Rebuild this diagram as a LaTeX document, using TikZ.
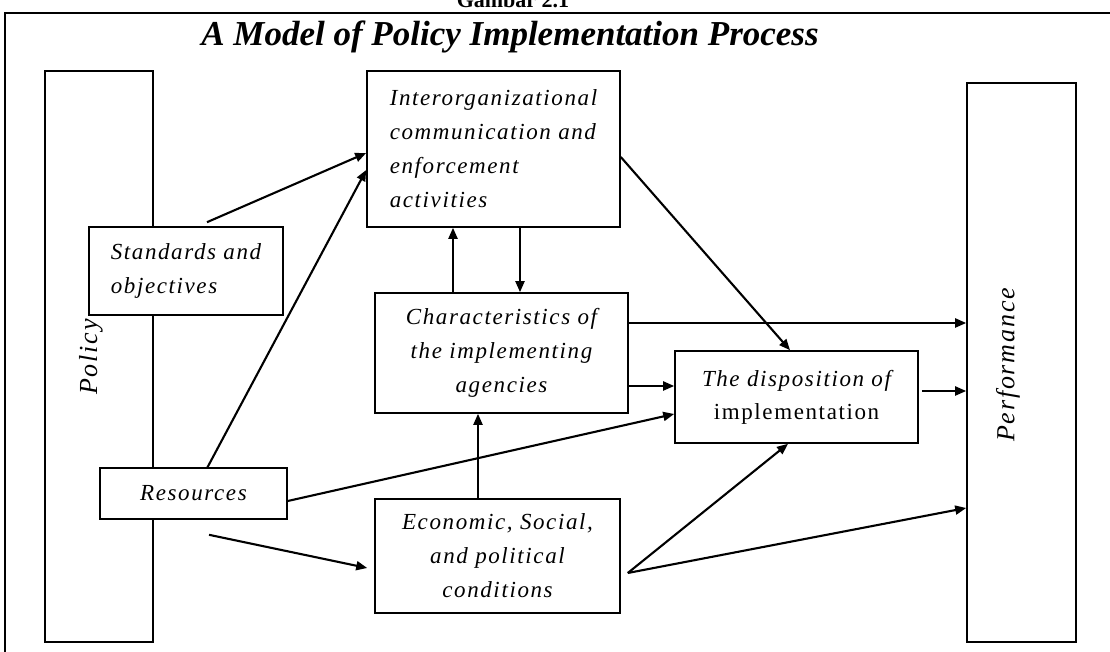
\documentclass[tikz,border=0pt]{standalone}
\usepackage{fontspec}
\setmainfont{Liberation Serif}
\newfontfamily\spacedserif[LetterSpace=7]{Liberation Serif}
\usetikzlibrary{arrows.meta}
\newcommand\boxtext{\spacedserif\itshape\fontsize{23}{34}\selectfont}
\newcommand\sidetext{\spacedserif\itshape\fontsize{26}{30}\selectfont}
\tikzset{
  box/.style={draw, line width=1.6pt, fill=white, inner sep=0pt, font=\boxtext},
  tallbox/.style={draw, line width=1.6pt, inner sep=0pt},
  conn/.style={line width=2.1pt, -{Triangle[length=11pt,width=9pt]}},
}
\begin{document}
\begin{tikzpicture}[x=1pt,y=1pt]
\useasboundingbox (0,0) rectangle (1110,652);
% caption above the frame and the frame itself
\node[anchor=base, font=\bfseries\fontsize{22}{26}\selectfont] (cap) at (513,644) {Gambar 2.1};
\draw[line width=2.8pt] (5,-20) -- (5,639) -- (1130,639);
\node[anchor=base, font=\bfseries\itshape\fontsize{35}{42}\selectfont] (title) at (510,606)
  {A Model of Policy Implementation Process};

% the two tall side columns
\node[tallbox, minimum width=108, minimum height=571] (policy) at (99,295.5) {};
\node[tallbox, minimum width=109, minimum height=559] (perf) at (1021.5,289.5) {};
\node[rotate=90, font=\sidetext] (policyt) at (91,295) {Policy};
\node[rotate=90, font=\sidetext] (perft) at (1008,287) {Performance};

% the boxes
\node[box, minimum width=253, minimum height=156, align=left] (inter) at (493.5,503)
  {Interorganizational\\communication and\\enforcement\\activities};
\node[box, minimum width=194, minimum height=88, align=left] (std) at (186,381)
  {Standards and\\objectives};
\node[box, minimum width=187, minimum height=51] (res) at (193.5,158.5) {Resources};
\node[box, minimum width=253, minimum height=120, align=center] (char) at (501.5,299)
  {Characteristics of\\the implementing\\agencies};
\node[box, minimum width=245, minimum height=114, align=center] (econ) at (497.5,96)
  {Economic, Social,\\and political\\conditions};
\node[box, minimum width=243, minimum height=92, align=center,
  font=\spacedserif\itshape\fontsize{23}{33}\selectfont] (disp) at (796.5,255)
  {The disposition of\\{\upshape implementation}};

% connectors
\draw[conn] ([xshift=21,yshift=4]std.north) -- ([yshift=-4]inter.west);
\draw[conn] ([xshift=13.5,yshift=-1]res.north) -- ([yshift=-21]inter.west);
\draw[conn] ([xshift=15.5,yshift=-15]res.south) -- ([xshift=-7,yshift=-12]econ.west);
\draw[conn] ([yshift=-7.5]res.east) -- ([yshift=-17]disp.west);
\draw[conn] ([yshift=-8]inter.east) -- ([xshift=-6.5]disp.north);
\draw[conn] ([xshift=-48.5]char.north) -- ([xshift=-48.5]char.north |- inter.south);
\draw[conn] ([xshift=26.5]inter.south) -- ([xshift=26.5]inter.south |- char.north);
\draw[conn] ([xshift=-19.5]econ.north) -- ([xshift=-19.5]econ.north |- char.south);
\draw[conn] ([yshift=30]char.east) -- ([yshift=30]char.east -| perf.west);
\draw[conn] ([yshift=-33]char.east) -- ([yshift=-33]char.east -| disp.west);
\draw[conn] ([xshift=3,yshift=6]disp.east) -- ([yshift=6]disp.east -| perf.west);
\draw[conn] ([xshift=7,yshift=-17]econ.east) -- ([xshift=-8.5]disp.south);
\draw[conn] ([xshift=7,yshift=-17]econ.east) -- ([yshift=-145.5]perf.west);
\end{tikzpicture}
\end{document}
